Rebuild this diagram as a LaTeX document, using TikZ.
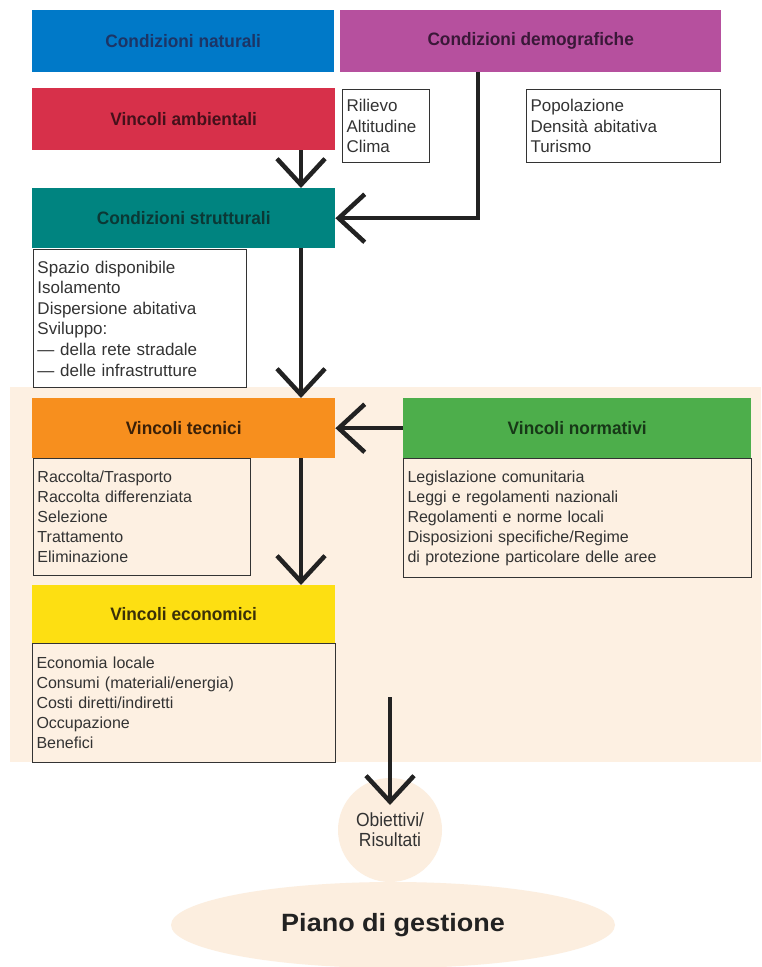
\documentclass[tikz,border=0pt]{standalone}
\usepackage{fontspec}
\setmainfont{Liberation Sans}
\newfontfamily\hdfont[FakeStretch=0.96]{Liberation Sans}
\newfontfamily\nrfont[FakeStretch=0.92]{Liberation Sans}
\newfontfamily\bigfont[FakeStretch=1.08]{Liberation Sans}
\usetikzlibrary{arrows.meta,calc,shapes.geometric}
\definecolor{cblue}{HTML}{0079C8}
\definecolor{tblue}{HTML}{1C3566}
\definecolor{cpurple}{HTML}{B6509E}
\definecolor{tpurple}{HTML}{3A1838}
\definecolor{cred}{HTML}{D7304A}
\definecolor{tred}{HTML}{45101A}
\definecolor{cteal}{HTML}{008480}
\definecolor{tteal}{HTML}{0B3835}
\definecolor{corange}{HTML}{F78F1E}
\definecolor{torange}{HTML}{3A2008}
\definecolor{cgreen}{HTML}{4DAE4B}
\definecolor{tgreen}{HTML}{173817}
\definecolor{cyellow}{HTML}{FDDF12}
\definecolor{tyellow}{HTML}{3A3008}
\definecolor{beige}{HTML}{FDF0E2}
\definecolor{beigec}{HTML}{FCEEDF}
\definecolor{boxline}{HTML}{333333}
\definecolor{bodytext}{HTML}{333333}
\definecolor{arrowc}{HTML}{222222}
\begin{document}
\begin{tikzpicture}[x=1pt,y=-1pt,
  hdr/.style={anchor=north west, inner sep=0pt, font=\hdfont\bfseries\fontsize{18}{20}\selectfont},
  lst/.style={anchor=north west, draw=boxline, line width=1pt, align=left, inner xsep=4pt, inner ysep=0pt, text=bodytext},
  upper/.style={font=\fontsize{17}{20.6}\selectfont},
  lower/.style={font=\fontsize{16}{20}\selectfont},
  arr/.style={draw=arrowc, line width=4.5pt, -{Straight Barb[length=26pt,width=48pt]}}]
\useasboundingbox (0,0) rectangle (761,967);
\fill[white] (0,0) rectangle (761,967);
\fill[beige] (10,387) rectangle (761,762);

% header boxes
\node[hdr, fill=cblue, text=tblue, minimum width=302pt, minimum height=62pt] (cn) at (32,10) {Condizioni naturali};
\node[hdr, fill=cpurple, text=tpurple, minimum width=381pt, minimum height=62pt] (cd) at (340,10) {Condizioni demografiche};
\node[hdr, fill=cred, text=tred, minimum width=303pt, minimum height=62pt] (va) at (32,88) {Vincoli ambientali};
\node[hdr, fill=cteal, text=tteal, minimum width=303pt, minimum height=60pt] (cs) at (32,188) {Condizioni strutturali};
\node[hdr, fill=corange, text=torange, minimum width=303pt, minimum height=60pt] (vt) at (32,398) {Vincoli tecnici};
\node[hdr, fill=cgreen, text=tgreen, minimum width=348pt, minimum height=60pt] (vn) at (403,398) {Vincoli normativi};
\node[hdr, fill=cyellow, text=tyellow, minimum width=303pt, minimum height=58pt] (ve) at (32,585) {Vincoli economici};

% list boxes
\node[lst, upper, text width=79pt, minimum height=73pt] (ril) at (342,89) {Rilievo\\Altitudine\\Clima};
\node[lst, upper, text width=186pt, minimum height=73pt] (pop) at (526,89) {Popolazione\\Densità abitativa\\Turismo};
\node[lst, upper, fill=white, text width=205pt, minimum height=138pt] (spz) at (33,249) {Spazio disponibile\\Isolamento\\Dispersione abitativa\\Sviluppo:\\— della rete stradale\\— delle infrastrutture};
\node[lst, lower, text width=209pt, minimum height=117pt] (rac) at (33,458) {Raccolta/Trasporto\\Raccolta differenziata\\Selezione\\Trattamento\\Eliminazione};
\node[lst, lower, text width=340pt, minimum height=119pt] (leg) at (403,458) {Legislazione comunitaria\\Leggi e regolamenti nazionali\\Regolamenti e norme locali\\Disposizioni specifiche/Regime\\di protezione particolare delle aree};
\node[lst, lower, text width=295pt, minimum height=119pt] (eco) at (32,643) {Economia locale\\Consumi (materiali/energia)\\Costi diretti/indiretti\\Occupazione\\Benefici};

% results
\node[circle, fill=beigec, minimum size=104pt, inner sep=0pt, align=center, text=bodytext, font=\nrfont\fontsize{19}{20}\selectfont] (obj) at (390,830) {Obiettivi/\\Risultati};
\node[ellipse, fill=beigec, minimum width=444pt, minimum height=86pt, inner sep=0pt, text=arrowc, font=\bigfont\bfseries\fontsize{25}{28}\selectfont] (piano) at (393,925) {Piano di gestione};

% connectors
\coordinate (colA) at (301,0);
\coordinate (colB) at (478,0);
\coordinate (s5) at (390,697);
\coordinate (e5) at (390,805);
\draw[arr] (va.south -| colA) -- (cs.north -| colA);
\draw[arr] (cd.south -| colB) |- (cs.east);
\draw[arr] (cs.south -| colA) -- (vt.north -| colA);
\draw[arr] (vn.west) -- (vt.east);
\draw[arr] (vt.south -| colA) -- (ve.north -| colA);
\draw[arr] (s5) -- (e5);
\end{tikzpicture}
\end{document}
